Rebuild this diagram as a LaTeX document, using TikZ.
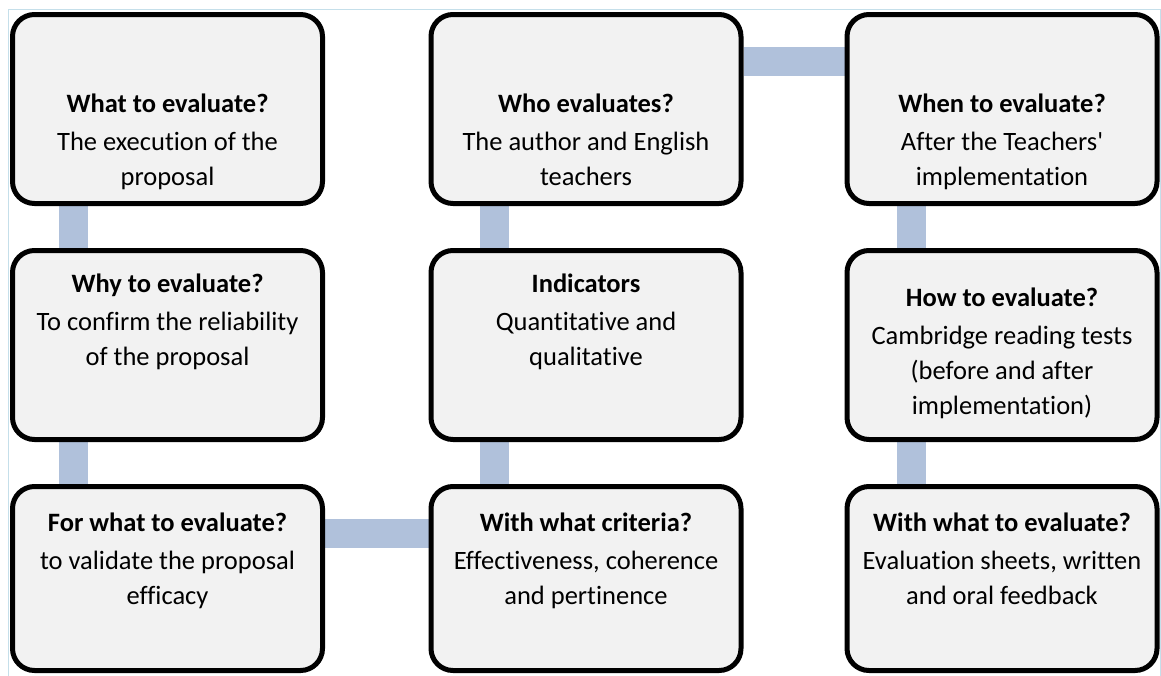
\documentclass[tikz,border=0pt]{standalone}
\usepackage{fontspec}
\setmainfont{Carlito}[Ligatures={NoCommon}]
\usetikzlibrary{backgrounds}
\definecolor{boxfill}{HTML}{F2F2F2}
\definecolor{connc}{HTML}{B0C1DB}
\definecolor{framec}{HTML}{C5DFEA}
\tikzset{
  x=1pt, y=-1pt,
  stepbox/.style={draw=black, line width=5pt, rounded corners=22pt, fill=boxfill,
    minimum width=310pt, inner sep=0pt},
  rowa/.style={minimum height=189pt},
  rowc/.style={minimum height=184pt},
  conn/.style={draw=connc, line width=29pt},
  txt/.style={align=center, inner sep=0pt, anchor=north,
    font=\fontsize{26.5}{35}\selectfont},
}
\begin{document}
\begin{tikzpicture}
\useasboundingbox (0,0) rectangle (1161,675);
\draw[framec, line width=1pt] (8.5,9.5) rectangle (1160.5,690);
% boxes
\node[stepbox, rowa] (b1) at (167.5,109) {};
\node[stepbox, rowa] (b2) at (167.5,345) {};
\node[stepbox, rowc] (b3) at (167.5,578.5) {};
\node[stepbox, rowc] (b4) at (586,578.5) {};
\node[stepbox, rowa] (b5) at (586,345) {};
\node[stepbox, rowa] (b6) at (586,109) {};
\node[stepbox, rowa] (b7) at (1002,109) {};
\node[stepbox, rowa] (b8) at (1002,345) {};
\node[stepbox, rowc] (b9) at (1002,578.5) {};
% connectors
\begin{scope}[on background layer]
\draw[conn] ([xshift=63.5pt]b1.south west) -- ([xshift=63.5pt]b2.north west);
\draw[conn] ([xshift=63.5pt]b2.south west) -- ([xshift=63.5pt]b3.north west);
\draw[conn] ([yshift=-49pt]b3.north east) -- ([yshift=-49pt]b4.north west);
\draw[conn] ([xshift=65.5pt]b4.north west) -- ([xshift=65.5pt]b5.south west);
\draw[conn] ([xshift=65.5pt]b5.north west) -- ([xshift=65.5pt]b6.south west);
\draw[conn] ([yshift=-49.5pt]b6.north east) -- ([yshift=-49.5pt]b7.north west);
\draw[conn] ([xshift=66.5pt]b7.south west) -- ([xshift=66.5pt]b8.north west);
\draw[conn] ([xshift=66.5pt]b8.south west) -- ([xshift=66.5pt]b9.north west);
\end{scope}
% texts
\node[txt] (t1) at (167.5,94) {\textbf{What to evaluate?}\\[3pt]The execution of the\\proposal};
\node[txt] (t2) at (167.5,274) {\textbf{Why to evaluate?}\\[3pt]To confirm the reliability\\of the proposal};
\node[txt] (t3) at (167.5,513) {\textbf{For what to evaluate?}\\[3pt]to validate the proposal\\efficacy};
\node[txt] (t4) at (586,513) {\textbf{With what criteria?}\\[3pt]Effectiveness, coherence\\and pertinence};
\node[txt] (t5) at (586,274) {\textbf{Indicators}\\[3pt]Quantitative and\\qualitative};
\node[txt] (t6) at (586,94) {\textbf{Who evaluates?}\\[3pt]The author and English\\teachers};
\node[txt] (t7) at (1002,94) {\textbf{When to evaluate?}\\[3pt]After the Teachers\textquotesingle\\implementation};
\node[txt] (t8) at (1002,288) {\textbf{How to evaluate?}\\[3pt]Cambridge reading tests\\(before and after\\implementation)};
\node[txt] (t9) at (1002,513) {\textbf{With what to evaluate?}\\[3pt]Evaluation sheets, written\\and oral feedback};
\end{tikzpicture}
\end{document}
